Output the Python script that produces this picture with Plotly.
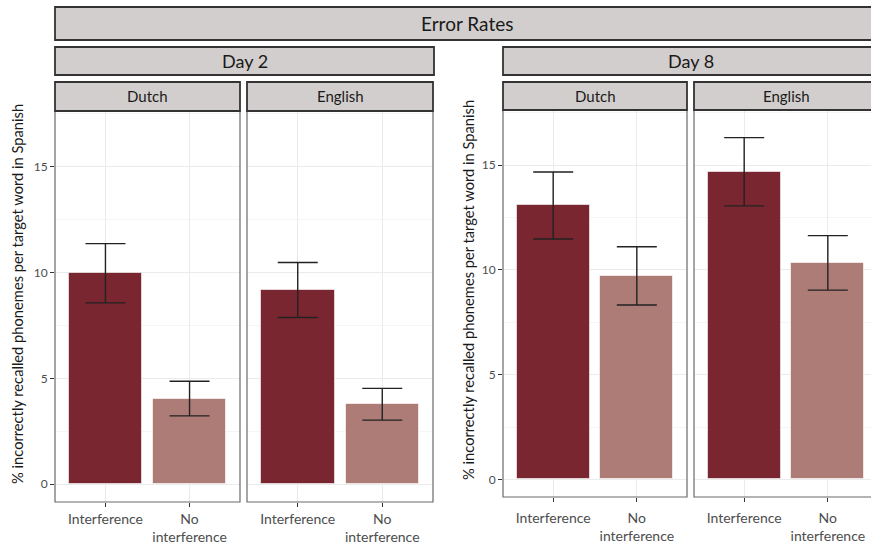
import plotly.graph_objects as go

# ---- data ----
conditions = ["Interference", "No interference"]
tick_text = ["Interference", "No<br>interference"]
days = ["Day 2", "Day 8"]
languages = ["Dutch", "English"]

day2_dutch_mean = [9.97, 4.05]
day2_dutch_se = [1.40, 0.82]
day2_english_mean = [9.18, 3.78]
day2_english_se = [1.30, 0.75]
day8_dutch_mean = [13.08, 9.72]
day8_dutch_se = [1.60, 1.39]
day8_english_mean = [14.69, 10.34]
day8_english_se = [1.63, 1.30]

y_ticks = [0, 5, 10, 15]
title_main = "Error Rates"
y_title = "% incorrectly recalled phonemes per target word in Spanish"

# ---- style ----
W, H = 871, 545
FONT = "Lato"
bar_colors = ["#7A2630", "#AD7C77"]
strip_fill = "#D2CECD"
strip_line = "#333333"
panel_line = "#6A6A6A"
grid_major = "#EBEBEB"
grid_minor = "#F5F5F5"
tick_col = "#4D4D4D"

def px(x):
    return x / W

def py(y):
    return 1 - y / H

# panel pixel boxes: (left, right, top, bottom)
panels = [
    (55, 240, 111, 502),
    (247, 433, 111, 502),
    (503, 687, 110, 497),
    (694, 878, 110, 497),
]
label_standoff = [0, 0, 4, 4]
means = [day2_dutch_mean, day2_english_mean, day8_dutch_mean, day8_english_mean]
ses = [day2_dutch_se, day2_english_se, day8_dutch_se, day8_english_se]
y_range = [-0.84, 17.64]

fig = go.Figure()
layout = dict(
    width=W, height=H,
    margin=dict(l=0, r=0, t=0, b=0),
    paper_bgcolor="white", plot_bgcolor="white",
    showlegend=False,
    bargap=0,
    font=dict(family=FONT, color=tick_col),
)

shapes = []
annotations = []

for i, (l, r, t, b) in enumerate(panels):
    n = i + 1
    xa = "x" if n == 1 else f"x{n}"
    ya = "y" if n == 1 else f"y{n}"
    fig.add_trace(go.Bar(
        x=conditions, y=means[i],
        marker=dict(color=bar_colors, line=dict(color="rgba(255,255,255,0.6)", width=1)),
        width=0.87,
        error_y=dict(type="data", array=ses[i], visible=True,
                     color="#222222", thickness=1.4, width=20),
        xaxis=xa, yaxis=ya,
    ))
    full_w = r - l
    unit = full_w / 2.2
    right_vis = min(r, W)
    xr = [-0.6, -0.6 + (right_vis - l) / unit]
    dom_x = [px(l), px(right_vis)]
    key_x = "xaxis" if n == 1 else f"xaxis{n}"
    key_y = "yaxis" if n == 1 else f"yaxis{n}"
    layout[key_x] = dict(
        domain=dom_x, anchor=ya, range=xr, type="category",
        tickvals=conditions, ticktext=tick_text,
        showgrid=True, gridcolor=grid_major, gridwidth=1,
        ticks="outside", ticklen=4, tickcolor="#333333", tickwidth=1,
        ticklabelstandoff=label_standoff[i],
        tickfont=dict(family=FONT, size=14, color=tick_col),
        showline=False, zeroline=False, fixedrange=True,
    )
    show_lab = (n in (1, 3))
    layout[key_y] = dict(
        domain=[py(b), py(t)], anchor=xa, range=y_range,
        tickvals=y_ticks, showticklabels=show_lab,
        ticks="outside" if show_lab else "", ticklen=4, tickcolor="#333333", tickwidth=1,
        tickfont=dict(family=FONT, size=12, color=tick_col),
        showgrid=True, gridcolor=grid_major, gridwidth=1,
        minor=dict(dtick=2.5, tick0=0, showgrid=True, gridcolor=grid_minor, gridwidth=1, ticks=""),
        showline=False, zeroline=False, fixedrange=True,
    )
    shapes.append(dict(type="rect", xref="paper", yref="paper",
                       x0=px(l), x1=px(r), y0=py(b), y1=py(t),
                       line=dict(color=panel_line, width=1.2), fillcolor="rgba(0,0,0,0)",
                       layer="above"))
    shapes.append(dict(type="rect", xref="paper", yref="paper",
                       x0=px(l), x1=px(r), y0=py(t), y1=py(82),
                       line=dict(color=strip_line, width=1.8), fillcolor=strip_fill,
                       layer="above"))
    annotations.append(dict(text=languages[i % 2], xref="paper", yref="paper",
                            x=px((l + r) / 2), y=py((t + 82) / 2), showarrow=False,
                            xanchor="center", yanchor="middle",
                            font=dict(family=FONT, size=15, color="#1A1A1A")))

for (l, r), d in zip([(55, 434), (503, 878)], days):
    shapes.append(dict(type="rect", xref="paper", yref="paper",
                       x0=px(l), x1=px(r), y0=py(75), y1=py(47),
                       line=dict(color=strip_line, width=1.8), fillcolor=strip_fill,
                       layer="above"))
    annotations.append(dict(text=d, xref="paper", yref="paper",
                            x=px((l + r) / 2), y=py(61), showarrow=False,
                            xanchor="center", yanchor="middle",
                            font=dict(family=FONT, size=18, color="#1A1A1A")))

shapes.append(dict(type="rect", xref="paper", yref="paper",
                   x0=px(55), x1=px(878), y0=py(40), y1=py(7),
                   line=dict(color=strip_line, width=1.8), fillcolor=strip_fill,
                   layer="above"))
annotations.append(dict(text=title_main, xref="paper", yref="paper",
                        x=px((55 + 878) / 2), y=py(23.5), showarrow=False,
                        xanchor="center", yanchor="middle",
                        font=dict(family=FONT, size=19, color="#1A1A1A")))

for xc, yc in [(17, 294), (468, 290)]:
    annotations.append(dict(text=y_title, xref="paper", yref="paper",
                            x=px(xc), y=py(yc), showarrow=False, textangle=-90,
                            xanchor="center", yanchor="middle",
                            font=dict(family=FONT, size=14.7, color="#1A1A1A")))

layout["shapes"] = shapes
layout["annotations"] = annotations
fig.update_layout(**layout)
fig.write_html("out.html")
